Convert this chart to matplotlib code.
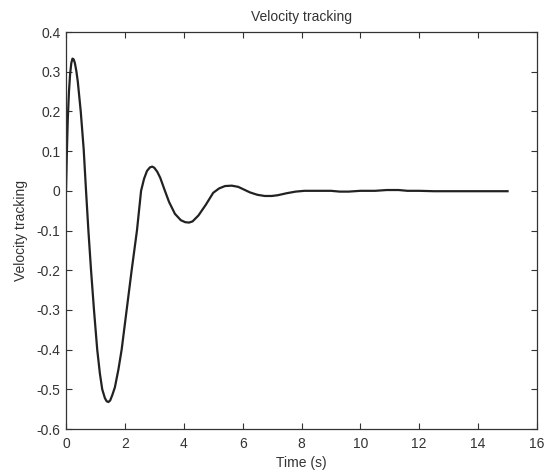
import numpy as np
import matplotlib.pyplot as plt

# values
time_s = [0.0, 0.03, 0.06, 0.1, 0.14, 0.18, 0.22, 0.26, 0.3, 0.35, 0.4, 0.5,
          0.6, 0.68, 0.76, 0.85, 0.95, 1.06, 1.15, 1.23, 1.32, 1.38, 1.44,
          1.5, 1.57, 1.66, 1.78, 1.89, 2.06, 2.23, 2.41, 2.55, 2.65, 2.75,
          2.85, 2.93, 3.0, 3.1, 3.2, 3.36, 3.5, 3.7, 3.9, 4.05, 4.18, 4.3,
          4.5, 4.75, 5.0, 5.2, 5.4, 5.63, 5.85, 6.05, 6.25, 6.5, 6.75, 6.99,
          7.2, 7.5, 7.8, 8.1, 8.5, 9.0, 9.3, 9.6, 10.0, 10.5, 10.9, 11.3,
          11.6, 12.0, 12.5, 13.0, 13.5, 14.0, 14.5, 15.0]
velocity = [0.0, 0.10, 0.18, 0.25, 0.295, 0.322, 0.333, 0.331, 0.322, 0.302,
            0.275, 0.2, 0.105, 0.0, -0.1, -0.2, -0.3, -0.4, -0.46, -0.5,
            -0.522, -0.53, -0.532, -0.528, -0.515, -0.495, -0.45, -0.4, -0.3,
            -0.2, -0.1, 0.0, 0.03, 0.05, 0.059, 0.061, 0.058, 0.048, 0.033,
            0.0, -0.028, -0.058, -0.074, -0.079, -0.08, -0.077, -0.062,
            -0.035, -0.005, 0.006, 0.012, 0.013, 0.01, 0.003, -0.004, -0.01,
            -0.013, -0.013, -0.011, -0.006, -0.002, 0.0, 0.0, 0.0, -0.002,
            -0.002, 0.0, 0.0, 0.002, 0.002, 0.0, 0.0, -0.001, -0.001, -0.001,
            -0.001, -0.001, -0.001]

x_ticks = [0, 2, 4, 6, 8, 10, 12, 14, 16]
y_ticks = [-0.6, -0.5, -0.4, -0.3, -0.2, -0.1, 0, 0.1, 0.2, 0.3, 0.4]

plt.rcParams.update({
    "font.family": "Liberation Sans",
    "font.size": 10,
    "xtick.direction": "in",
    "ytick.direction": "in",
    "xtick.top": True,
    "ytick.right": True,
    "xtick.major.size": 4,
    "ytick.major.size": 4,
    "axes.linewidth": 0.9,
})

fig = plt.figure(figsize=(5.52, 4.75), dpi=100)
ax = fig.add_axes([0.1196, 0.0968, 0.8532, 0.8358])

ax.plot(time_s, velocity, color='#222222', linewidth=1.6)

ax.set_xlim(0, 16)
ax.set_ylim(-0.6, 0.4)
ax.set_xticks(x_ticks)
ax.set_yticks(y_ticks)
ax.set_yticklabels([f"{v:g}" for v in y_ticks])
for s in ax.spines.values():
    s.set_color('#333333')
ax.tick_params(colors='#333333', labelcolor='#333333')
ax.tick_params(axis='x', pad=6)
ax.tick_params(axis='y', pad=4)

ax.set_title('Velocity tracking', fontsize=10, color='#333333', pad=8)
ax.set_xlabel('Time (s)', color='#333333', labelpad=3)
ax.set_ylabel('Velocity tracking', color='#333333', labelpad=6)

fig.savefig('out.png', dpi=100)
